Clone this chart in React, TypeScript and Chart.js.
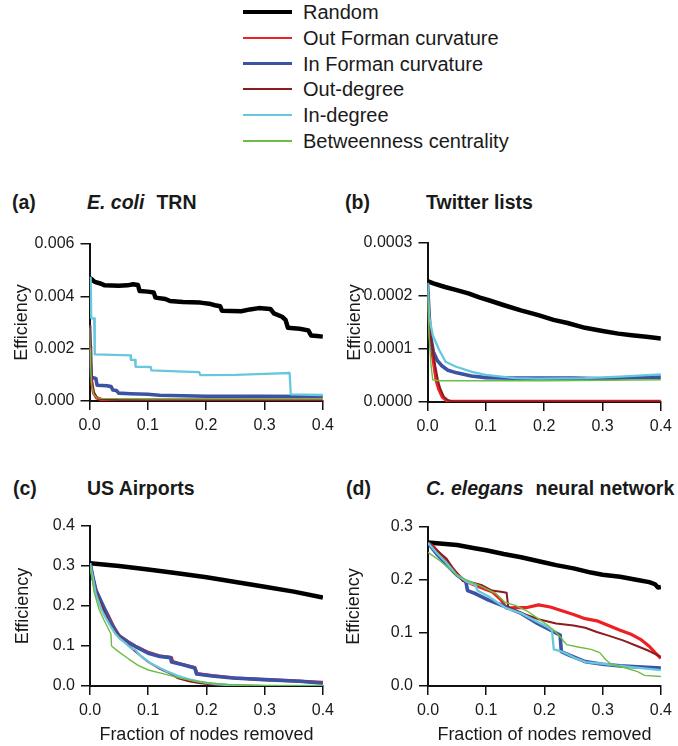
import React, { useEffect, useRef } from "react";
import { Chart, registerables } from "chart.js";

Chart.register(...registerables);

// ---------------- DATA ----------------
const seriesNames = [
  "Random",
  "Out Forman curvature",
  "In Forman curvature",
  "Out-degree",
  "In-degree",
  "Betweenness centrality",
];

const xTicks = [0, 0.1, 0.2, 0.3, 0.4];
const ecoliYTicks = [0, 0.002, 0.004, 0.006];
const twitterYTicks = [0, 0.0001, 0.0002, 0.0003];
const airportsYTicks = [0, 0.1, 0.2, 0.3, 0.4];
const elegansYTicks = [0, 0.1, 0.2, 0.3];

// (a) E. coli TRN  — [fraction removed, efficiency]
const ecoliRandom = [
  [0, 0.0047], [0.004, 0.00465], [0.009, 0.00455], [0.02, 0.00448], [0.026, 0.00442],
  [0.05, 0.0044], [0.065, 0.00442], [0.075, 0.00446], [0.083, 0.00443], [0.086, 0.0042],
  [0.1, 0.00418], [0.11, 0.00415], [0.113, 0.00395], [0.13, 0.0039], [0.138, 0.00382],
  [0.16, 0.00378], [0.19, 0.00376], [0.205, 0.00372], [0.215, 0.00366], [0.224, 0.00362],
  [0.227, 0.00345], [0.26, 0.00343], [0.275, 0.0035], [0.29, 0.00355], [0.31, 0.00352],
  [0.316, 0.00335], [0.33, 0.00322], [0.336, 0.0031], [0.34, 0.0028], [0.36, 0.00276],
  [0.375, 0.0027], [0.38, 0.0025], [0.39, 0.00248], [0.4, 0.00246],
];
const ecoliOutForman = [
  [0, 0.0029], [0.001, 0.0021], [0.002, 0.0014], [0.004, 0.0007], [0.007, 0.0003],
  [0.012, 0.00012], [0.02, 0.00006], [0.04, 0.00002], [0.06, 0.00001], [0.4, 0.00001],
];
const ecoliInForman = [
  [0, 0.0029], [0.003, 0.0009], [0.008, 0.00088], [0.011, 0.00085], [0.013, 0.0006],
  [0.03, 0.00058], [0.037, 0.00055], [0.04, 0.00042], [0.046, 0.0004], [0.05, 0.0003],
  [0.07, 0.00028], [0.1, 0.00026], [0.12, 0.00022], [0.16, 0.0002], [0.2, 0.00018],
  [0.3, 0.00018], [0.4, 0.00017],
];
const ecoliOutDegree = [
  [0, 0.0029], [0.001, 0.0022], [0.002, 0.0016], [0.004, 0.0008], [0.007, 0.00035],
  [0.012, 0.00015], [0.02, 0.00008], [0.05, 0.00004], [0.1, 0.00002], [0.4, 0.00001],
];
const ecoliInDegree = [
  [0, 0.0047], [0.002, 0.0047], [0.003, 0.00316], [0.008, 0.00316], [0.009, 0.00178],
  [0.04, 0.00176], [0.07, 0.00174], [0.071, 0.00157], [0.078, 0.00157], [0.079, 0.00131],
  [0.105, 0.0013], [0.106, 0.00117], [0.15, 0.00113], [0.188, 0.0011], [0.19, 0.00099],
  [0.25, 0.001], [0.3, 0.00104], [0.343, 0.00107], [0.345, 0.00025], [0.4, 0.00023],
];
const ecoliBetweenness = [
  [0, 0.0028], [0.001, 0.002], [0.002, 0.0013], [0.004, 0.0006], [0.007, 0.00026],
  [0.012, 0.00013], [0.02, 0.0001], [0.1, 0.00009], [0.4, 0.00009],
];

// (b) Twitter lists
const twitterRandom = [
  [0, 0.000228], [0.01, 0.000224], [0.03, 0.000217], [0.05, 0.000211], [0.07, 0.000205],
  [0.09, 0.000197], [0.105, 0.000192], [0.13, 0.000183], [0.16, 0.000173], [0.19, 0.000164],
  [0.216, 0.000155], [0.24, 0.000149], [0.27, 0.00014], [0.3, 0.000134], [0.327, 0.000129],
  [0.35, 0.000126], [0.375, 0.000123], [0.4, 0.00012],
];
const twitterOutForman = [
  [0, 0.00021], [0.002, 0.00017], [0.004, 0.00013], [0.007, 0.0001], [0.011, 0.00007],
  [0.015, 0.00004], [0.019, 0.000025], [0.025, 0.00001], [0.032, 0.000003], [0.04, 0.000001],
  [0.4, 0.000001],
];
const twitterInForman = [
  [0, 0.000225], [0.003, 0.00016], [0.006, 0.00012], [0.01, 0.000095], [0.017, 0.000078],
  [0.025, 0.000068], [0.035, 0.00006], [0.05, 0.000055], [0.075, 0.000049], [0.1, 0.000046],
  [0.15, 0.000045], [0.2, 0.000045], [0.25, 0.000045], [0.3, 0.000044], [0.35, 0.000046],
  [0.4, 0.000047],
];
const twitterOutDegree = [
  [0, 0.00021], [0.003, 0.00016], [0.006, 0.00012], [0.009, 0.0001], [0.013, 0.00007],
  [0.018, 0.00004], [0.022, 0.000025], [0.028, 0.00001], [0.036, 0.000003], [0.045, 0.000001],
  [0.4, 0.000001],
];
const twitterInDegree = [
  [0, 0.000225], [0.003, 0.00016], [0.009, 0.000126], [0.02, 0.000098], [0.031, 0.000076],
  [0.048, 0.000067], [0.076, 0.000057], [0.1, 0.000051], [0.15, 0.000045], [0.19, 0.000044],
  [0.27, 0.000045], [0.33, 0.000048], [0.4, 0.000052],
];
const twitterBetweenness = [
  [0, 0.00021], [0.003, 0.00012], [0.006, 0.00007], [0.009, 0.000042], [0.02, 0.00004],
  [0.1, 0.00004], [0.2, 0.00004], [0.3, 0.000041], [0.4, 0.000042],
];

// (c) US Airports
const airportsRandom = [
  [0, 0.307], [0.05, 0.3], [0.1, 0.291], [0.15, 0.282], [0.2, 0.272],
  [0.25, 0.26], [0.3, 0.248], [0.35, 0.236], [0.4, 0.221],
];
const airportsOutForman = [
  [0, 0.307], [0.005, 0.27], [0.01, 0.24], [0.02, 0.205], [0.03, 0.18], [0.04, 0.15],
  [0.05, 0.126], [0.065, 0.111], [0.08, 0.098], [0.1, 0.084], [0.12, 0.075], [0.14, 0.071],
  [0.142, 0.061], [0.16, 0.053], [0.18, 0.046], [0.184, 0.031], [0.21, 0.026], [0.25, 0.02],
  [0.3, 0.016], [0.35, 0.013], [0.4, 0.009],
];
const airportsInForman = [
  [0, 0.307], [0.005, 0.272], [0.01, 0.24], [0.018, 0.215], [0.026, 0.19], [0.035, 0.16],
  [0.043, 0.14], [0.05, 0.125], [0.065, 0.11], [0.08, 0.097], [0.1, 0.082], [0.12, 0.074],
  [0.138, 0.071], [0.14, 0.06], [0.16, 0.053], [0.18, 0.045], [0.183, 0.03], [0.21, 0.025],
  [0.245, 0.02], [0.3, 0.016], [0.36, 0.012], [0.4, 0.007],
];
const airportsOutDegree = [
  [0, 0.307], [0.005, 0.27], [0.01, 0.235], [0.02, 0.2], [0.03, 0.165], [0.04, 0.14],
  [0.05, 0.123], [0.06, 0.11], [0.075, 0.09], [0.09, 0.072], [0.1, 0.06], [0.12, 0.043],
  [0.14, 0.03], [0.15, 0.02], [0.17, 0.012], [0.19, 0.007], [0.21, 0.004], [0.25, 0.002],
  [0.3, 0], [0.4, 0],
];
const airportsInDegree = [
  [0, 0.307], [0.005, 0.27], [0.01, 0.23], [0.02, 0.19], [0.026, 0.173], [0.035, 0.15],
  [0.043, 0.132], [0.05, 0.12], [0.061, 0.107], [0.07, 0.095], [0.078, 0.09], [0.085, 0.078],
  [0.092, 0.07], [0.105, 0.056], [0.12, 0.045], [0.133, 0.036], [0.15, 0.026], [0.16, 0.021],
  [0.175, 0.015], [0.188, 0.011], [0.2, 0.008], [0.216, 0.005], [0.24, 0.002], [0.27, 0.001],
  [0.3, 0], [0.4, 0],
];
const airportsBetweenness = [
  [0, 0.3], [0.002, 0.285], [0.007, 0.235], [0.016, 0.19], [0.024, 0.165], [0.036, 0.13],
  [0.037, 0.1], [0.049, 0.086], [0.066, 0.068], [0.082, 0.052], [0.1, 0.04], [0.13, 0.029],
  [0.156, 0.019], [0.183, 0.012], [0.21, 0.007], [0.24, 0.003], [0.28, 0.0015], [0.33, 0.001],
  [0.4, 0.0005],
];

// (d) C. elegans neural network
const elegansRandom = [
  [0, 0.271], [0.02, 0.269], [0.05, 0.266], [0.08, 0.26], [0.1, 0.256], [0.13, 0.249],
  [0.16, 0.243], [0.2, 0.233], [0.22, 0.228], [0.25, 0.222], [0.28, 0.214], [0.3, 0.21],
  [0.33, 0.206], [0.36, 0.2], [0.38, 0.196], [0.39, 0.192], [0.395, 0.186], [0.4, 0.187],
];
const elegansOutForman = [
  [0, 0.27], [0.01, 0.262], [0.027, 0.24], [0.043, 0.22], [0.06, 0.2], [0.077, 0.192],
  [0.093, 0.185], [0.11, 0.178], [0.125, 0.163], [0.135, 0.147], [0.15, 0.148], [0.17, 0.148],
  [0.19, 0.153], [0.21, 0.149], [0.23, 0.142], [0.25, 0.135], [0.27, 0.127], [0.29, 0.123],
  [0.31, 0.114], [0.33, 0.105], [0.35, 0.097], [0.365, 0.088], [0.38, 0.075], [0.39, 0.063],
  [0.4, 0.052],
];
const elegansInForman = [
  [0, 0.27], [0.016, 0.248], [0.032, 0.229], [0.049, 0.21], [0.065, 0.197], [0.068, 0.18],
  [0.082, 0.174], [0.104, 0.162], [0.132, 0.15], [0.16, 0.137], [0.188, 0.118], [0.204, 0.109],
  [0.227, 0.096], [0.229, 0.065], [0.243, 0.058], [0.27, 0.046], [0.3, 0.041], [0.33, 0.038],
  [0.36, 0.036], [0.4, 0.034],
];
const elegansOutDegree = [
  [0, 0.27], [0.016, 0.255], [0.032, 0.24], [0.043, 0.222], [0.06, 0.198], [0.077, 0.195],
  [0.093, 0.19], [0.11, 0.18], [0.125, 0.178], [0.135, 0.176], [0.138, 0.148], [0.16, 0.138],
  [0.19, 0.126], [0.22, 0.118], [0.25, 0.114], [0.27, 0.11], [0.29, 0.102], [0.31, 0.095],
  [0.335, 0.086], [0.36, 0.075], [0.38, 0.066], [0.4, 0.055],
];
const elegansInDegree = [
  [0, 0.27], [0.016, 0.25], [0.032, 0.232], [0.049, 0.21], [0.066, 0.197], [0.082, 0.19],
  [0.085, 0.18], [0.104, 0.169], [0.132, 0.148], [0.16, 0.137], [0.188, 0.121], [0.204, 0.112],
  [0.213, 0.105], [0.216, 0.069], [0.227, 0.066], [0.238, 0.061], [0.254, 0.052], [0.271, 0.045],
  [0.3, 0.042], [0.33, 0.038], [0.354, 0.035], [0.4, 0.03],
];
const elegansBetweenness = [
  [0, 0.252], [0.021, 0.236], [0.049, 0.21], [0.066, 0.2], [0.088, 0.19], [0.116, 0.175],
  [0.132, 0.158], [0.15, 0.152], [0.171, 0.141], [0.188, 0.128], [0.205, 0.115], [0.216, 0.105],
  [0.227, 0.093], [0.238, 0.078], [0.26, 0.073], [0.28, 0.069], [0.295, 0.063], [0.305, 0.05],
  [0.316, 0.04], [0.34, 0.034], [0.36, 0.027], [0.372, 0.02], [0.4, 0.018],
];

// ---------------- STYLE ----------------
const FONT = "'Liberation Sans', Arial, Helvetica, sans-serif";
const TEXT = "#1a1a1a";
const seriesColors = ["#000000", "#ee2024", "#3a53a4", "#8c1c1f", "#67c8dd", "#6cbd45"];
const seriesWidths = [4.5, 3.2, 3.6, 2, 2.3, 1.4];
const legendWidths = [3.5, 2.2, 3, 2, 1.8, 1.3];

type Geom = {
  left: number; top: number; w: number; h: number;
  padTop: number; padRight: number; yAxisW: number; xAxisH: number; yTitlePad: number;
};

function Panel(props: {
  geom: Geom; series: number[][][]; yTicks: number[]; yDecimals: number; showXTitle: boolean;
}) {
  const { geom, series, yTicks, yDecimals, showXTitle } = props;
  const ref = useRef<HTMLCanvasElement>(null);
  useEffect(() => {
    const tickFont = { family: FONT, size: 16 };
    const titleFont = { family: FONT, size: 18 };
    const gridOpts = {
      display: true, drawOnChartArea: false, drawTicks: true, tickLength: 9,
      color: "#111", tickColor: "#111", lineWidth: 1.5, tickWidth: 1.5,
    };
    const borderOpts = { display: true, color: "#111", width: 2 };
    const chart = new Chart(ref.current as HTMLCanvasElement, {
      type: "line",
      data: {
        datasets: series.map((pts, i) => ({
          label: seriesNames[i],
          data: pts.map(([x, y]) => ({ x, y })),
          borderColor: seriesColors[i],
          backgroundColor: seriesColors[i],
          borderWidth: seriesWidths[i],
          pointRadius: 0,
          tension: 0,
          fill: false,
          order: 6 - i,
          borderJoinStyle: "round",
        })),
      },
      options: {
        animation: false,
        responsive: false,
        events: [],
        layout: { padding: { left: 0, top: geom.padTop, right: geom.padRight, bottom: 0 } },
        plugins: { legend: { display: false }, tooltip: { enabled: false }, title: { display: false } },
        scales: {
          x: {
            type: "linear",
            min: 0,
            max: 0.4,
            afterBuildTicks: (s: any) => { s.ticks = xTicks.map((v) => ({ value: v })); },
            afterFit: (s: any) => { s.height = geom.xAxisH; },
            ticks: {
              callback: (v: any) => Number(v).toFixed(1),
              font: tickFont, color: TEXT, padding: 6, maxRotation: 0, autoSkip: false,
            },
            grid: gridOpts,
            border: borderOpts,
            title: {
              display: showXTitle, text: "Fraction of nodes removed", font: titleFont,
              color: TEXT, padding: { top: 0, bottom: 0 },
            },
          },
          y: {
            type: "linear",
            min: 0,
            max: yTicks[yTicks.length - 1],
            afterBuildTicks: (s: any) => { s.ticks = yTicks.map((v) => ({ value: v })); },
            afterFit: (s: any) => { s.width = geom.yAxisW; },
            ticks: {
              callback: (v: any) => Number(v).toFixed(yDecimals),
              font: tickFont, color: TEXT, padding: 6, autoSkip: false,
            },
            grid: gridOpts,
            border: borderOpts,
            title: {
              display: true, text: "Efficiency", font: titleFont, color: TEXT,
              padding: { top: geom.yTitlePad, bottom: 0 },
            },
          },
        },
      } as any,
    });
    return () => chart.destroy();
  }, []);
  return (
    <canvas
      ref={ref}
      width={geom.w}
      height={geom.h}
      style={{ position: "absolute", left: geom.left, top: geom.top, width: geom.w, height: geom.h }}
    />
  );
}

function PanelTitle(props: { left: number; nameLeft: number; top: number; tag: string; italic?: string; rest: string }) {
  const base: React.CSSProperties = {
    position: "absolute", top: props.top, font: `bold 19.5px ${FONT}`, lineHeight: "22px",
    color: TEXT, whiteSpace: "nowrap",
  };
  return (
    <>
      <div style={{ ...base, left: props.left }}>{props.tag}</div>
      <div style={{ ...base, left: props.nameLeft }}>
        {props.italic ? <span style={{ fontStyle: "italic" }}>{props.italic}</span> : null}
        <span style={{ marginLeft: props.italic ? 12 : 0 }}>{props.rest}</span>
      </div>
    </>
  );
}

export default function App() {
  const geomA: Geom = { left: 0, top: 224, w: 340, h: 216, padTop: 20, padRight: 10.5, yAxisW: 89.5, xAxisH: 39, yTitlePad: 11.7 };
  const geomB: Geom = { left: 340, top: 224, w: 338, h: 216, padTop: 19, padRight: 10.5, yAxisW: 87.5, xAxisH: 38, yTitlePad: 4.2 };
  const geomC: Geom = { left: 0, top: 506, w: 340, h: 240, padTop: 20, padRight: 10.5, yAxisW: 90, xAxisH: 60, yTitlePad: 12.2 };
  const geomD: Geom = { left: 340, top: 506, w: 338, h: 240, padTop: 21, padRight: 10, yAxisW: 88, xAxisH: 60, yTitlePad: 3.7 };

  return (
    <div style={{ position: "absolute", left: 0, top: 0, width: 678, height: 746, background: "#fff", overflow: "hidden" }}>
      {seriesNames.map((name, i) => (
        <div
          key={name}
          style={{
            position: "absolute", left: 243, top: 1 + i * 25.8, height: 22,
            display: "flex", alignItems: "center", whiteSpace: "nowrap",
          }}
        >
          <div style={{ width: 49, height: legendWidths[i], background: seriesColors[i] }} />
          <span style={{ marginLeft: 11, font: `20px ${FONT}`, lineHeight: "22px", color: TEXT }}>{name}</span>
        </div>
      ))}

      <PanelTitle left={12} nameLeft={87} top={191} tag="(a)" italic="E. coli" rest="TRN" />
      <PanelTitle left={345} nameLeft={426} top={191} tag="(b)" rest="Twitter lists" />
      <PanelTitle left={13} nameLeft={87} top={477} tag="(c)" rest="US Airports" />
      <PanelTitle left={346} nameLeft={426} top={477} tag="(d)" italic="C. elegans" rest="neural network" />

      <Panel
        geom={geomA}
        series={[ecoliRandom, ecoliOutForman, ecoliInForman, ecoliOutDegree, ecoliInDegree, ecoliBetweenness]}
        yTicks={ecoliYTicks}
        yDecimals={3}
        showXTitle={false}
      />
      <Panel
        geom={geomB}
        series={[twitterRandom, twitterOutForman, twitterInForman, twitterOutDegree, twitterInDegree, twitterBetweenness]}
        yTicks={twitterYTicks}
        yDecimals={4}
        showXTitle={false}
      />
      <Panel
        geom={geomC}
        series={[airportsRandom, airportsOutForman, airportsInForman, airportsOutDegree, airportsInDegree, airportsBetweenness]}
        yTicks={airportsYTicks}
        yDecimals={1}
        showXTitle={true}
      />
      <Panel
        geom={geomD}
        series={[elegansRandom, elegansOutForman, elegansInForman, elegansOutDegree, elegansInDegree, elegansBetweenness]}
        yTicks={elegansYTicks}
        yDecimals={1}
        showXTitle={true}
      />
    </div>
  );
}
